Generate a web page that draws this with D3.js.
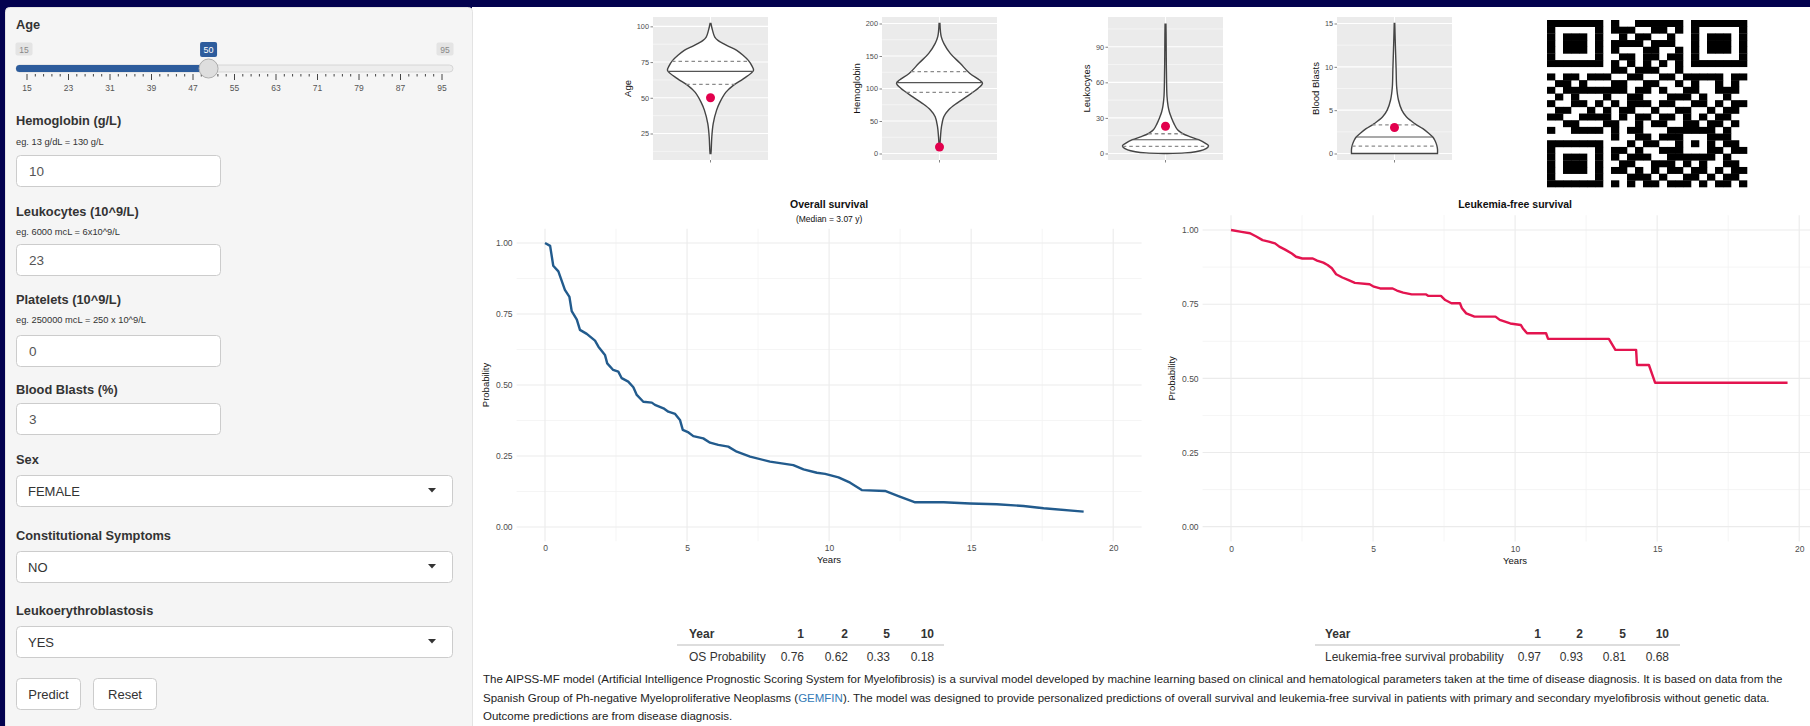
<!DOCTYPE html>
<html><head><meta charset="utf-8">
<script src="https://cdn.jsdelivr.net/npm/d3@7"></script>
<style>
html,body{margin:0;padding:0;background:#03024f;overflow:hidden;}
svg{display:block;font-family:"Liberation Sans",Arial,Helvetica,sans-serif;}
</style></head><body>
<svg id="app" width="1810" height="726"></svg>
<script>
// ---------- inputs shown in the sidebar ----------
const ageMin = 15, ageMax = 95, ageValue = 50;
const ageGridLabels = [15, 23, 31, 39, 47, 55, 63, 71, 79, 87, 95];
const numericFields = ["Hemoglobin (g/L)", "Leukocytes (10^9/L)", "Platelets (10^9/L)", "Blood Blasts (%)"];
const numericHints = ["eg. 13 g/dL = 130 g/L", "eg. 6000 mcL = 6x10^9/L", "eg. 250000 mcL = 250 x 10^9/L", ""];
const numericValues = [10, 23, 0, 3];
const selectFields = ["Sex", "Constitutional Symptoms", "Leukoerythroblastosis"];
const selectValues = ["FEMALE", "NO", "YES"];
const buttonLabels = ["Predict", "Reset"];

// ---------- cohort distributions (violins): value grid and relative density ----------
const ageDensValue = [11, 13.2, 22.5, 31.9, 41.2, 47, 54, 58.7, 63.4, 69.2, 72.5, 76.2, 80, 83.2, 86, 87.9, 90, 92.5, 97.2, 102];
const ageDensWidth = [0.01, 0.016, 0.03, 0.063, 0.14, 0.22, 0.36, 0.53, 0.77, 1.0, 0.96, 0.88, 0.75, 0.61, 0.42, 0.30, 0.18, 0.10, 0.047, 0.01];
const ageQuartiles = [59.4, 68.5, 75.5];
const ageTicks = [25, 50, 75, 100];

const hbDensValue = [6, 25.8, 41.2, 56.6, 66.9, 77.2, 87.4, 100.3, 108, 113, 123.4, 138.8, 154, 169.5, 179.7, 200];
const hbDensWidth = [0.005, 0.023, 0.046, 0.10, 0.21, 0.40, 0.63, 0.90, 1.0, 0.93, 0.70, 0.48, 0.25, 0.10, 0.04, 0.01];
const hbQuartiles = [94, 109, 126];
const hbTicks = [0, 50, 100, 150, 200];

const leukoDensValue = [0, 0.5, 1.5, 3, 5, 6.5, 8.5, 11.6, 14, 16.7, 20, 25, 30, 35, 40, 48, 60, 80, 100, 109];
const leukoDensWidth = [0.04, 0.45, 0.7, 0.88, 0.98, 1.0, 0.93, 0.77, 0.58, 0.40, 0.28, 0.20, 0.14, 0.09, 0.06, 0.035, 0.025, 0.018, 0.014, 0.01];
const leukoQuartiles = [6, 11.6, 16.7];
const leukoTicks = [0, 30, 60, 90];

const blastDensValue = [0, 0.5, 1, 1.5, 1.9, 2.4, 2.87, 3.45, 4.2, 5, 6.2, 7.7, 9.65, 12, 15];
const blastDensWidth = [1.0, 1.0, 0.98, 0.94, 0.89, 0.78, 0.66, 0.47, 0.28, 0.17, 0.09, 0.05, 0.038, 0.023, 0.006];
const blastQuartiles = [0.85, 1.9, 3.3];
const blastTicks = [0, 5, 10, 15];

// ---------- predicted survival curves ----------
const osTime = [0, 0.18, 0.29, 0.47, 0.70, 0.86, 0.94, 1.12, 1.23, 1.47, 1.76, 1.88, 2.11, 2.19, 2.40, 2.58, 2.70, 2.93, 3.11, 3.23, 3.46, 3.76, 3.87, 4.17, 4.34, 4.58, 4.75, 4.85, 5.05, 5.22, 5.57, 5.81, 6.10, 6.45, 6.75, 7.22, 7.92, 8.74, 9.10, 9.57, 9.86, 10.33, 10.74, 11.15, 11.97, 12.44, 13.03, 14.03, 14.96, 15.90, 16.84, 17.55, 18.96];
const osProb = [1.0, 0.99, 0.92, 0.90, 0.835, 0.81, 0.76, 0.73, 0.694, 0.68, 0.656, 0.635, 0.606, 0.576, 0.553, 0.547, 0.524, 0.512, 0.492, 0.465, 0.441, 0.438, 0.430, 0.418, 0.406, 0.398, 0.377, 0.342, 0.333, 0.320, 0.312, 0.297, 0.289, 0.283, 0.265, 0.248, 0.230, 0.218, 0.203, 0.191, 0.187, 0.175, 0.156, 0.130, 0.127, 0.109, 0.087, 0.087, 0.083, 0.080, 0.074, 0.066, 0.054];

const lfsTime = [0, 0.37, 0.67, 0.89, 1.11, 1.33, 1.55, 1.70, 1.92, 2.14, 2.29, 2.51, 2.88, 3.03, 3.25, 3.40, 3.55, 3.70, 3.92, 4.14, 4.36, 4.88, 5.03, 5.25, 5.69, 5.84, 6.06, 6.36, 6.87, 6.95, 7.39, 7.54, 7.76, 8.06, 8.13, 8.28, 8.57, 9.31, 9.46, 9.83, 10.2, 10.27, 10.42, 11.09, 11.16, 13.30, 13.53, 14.26, 14.29, 14.71, 14.93, 19.59];
const lfsProb = [1.0, 0.994, 0.989, 0.978, 0.966, 0.961, 0.955, 0.944, 0.933, 0.921, 0.910, 0.904, 0.904, 0.897, 0.890, 0.882, 0.871, 0.851, 0.840, 0.831, 0.822, 0.817, 0.809, 0.803, 0.803, 0.796, 0.789, 0.783, 0.783, 0.778, 0.778, 0.764, 0.753, 0.753, 0.736, 0.719, 0.708, 0.708, 0.697, 0.685, 0.680, 0.669, 0.652, 0.652, 0.633, 0.633, 0.596, 0.596, 0.545, 0.545, 0.485, 0.485];

const survXTicks = [0, 5, 10, 15, 20];
const survYTicks = [0, 0.25, 0.5, 0.75, 1];
const osMedian = 3.07;

// ---------- summary tables ----------
const tableYears = [1, 2, 5, 10];
const osAtYears = [0.76, 0.62, 0.33, 0.18];
const lfsAtYears = [0.97, 0.93, 0.81, 0.68];

// ---------- QR code modules ----------
const qrRows = [
"1111111010011111101111111",
"1000001011100110101000001",
"1011101001011001001011101",
"1011101011110111001011101",
"1011101010001100101011101",
"1000001001101101101000001",
"1111111010101010101111111",
"0000000011011100100000000",
"1011011100110011011111011",
"0110100011001100101001010",
"1011111111011010011001110",
"0101000100110001110100100",
"1001101010111011001101011",
"0110010101100100110010110",
"1100111101011011010101100",
"0011000110010110011011010",
"1001111010110001111110100",
"0000000010011011100011100",
"1111111000101100101010110",
"1000001011010011100011011",
"1011101010111001111110100",
"1011101001100111010100110",
"1011101011010101101101011",
"1000001000111010011010110",
"1111111010101101110101101"];

const descLines = [
  ["The AIPSS-MF model (Artificial Intelligence Prognostic Scoring System for Myelofibrosis) is a survival model developed by machine learning based on clinical and hematological parameters taken at the time of disease diagnosis. It is based on data from the"],
  ["Spanish Group of Ph-negative Myeloproliferative Neoplasms (", "GEMFIN", "). The model was designed to provide personalized predictions of overall survival and leukemia-free survival in patients with primary and secondary myelofibrosis without genetic data."],
  ["Outcome predictions are from disease diagnosis."]
];

// =====================================================================
const svg = d3.select("#app");
const TXT = "#333";

// page frame
svg.append("rect").attr("width", 1810).attr("height", 726).attr("fill", "#03024f");
svg.append("rect").attr("x", 472).attr("y", 7).attr("width", 1338).attr("height", 719).attr("fill", "#fff");
svg.append("rect").attr("x", 5.5).attr("y", 7.5).attr("width", 467).attr("height", 740).attr("rx", 4)
  .attr("fill", "#f5f5f5").attr("stroke", "#e3e3e3");

// ---------------- sidebar ----------------
const side = svg.append("g");
function fieldLabel(t, y) {
  side.append("text").attr("x", 16).attr("y", y).attr("font-size", 12.8).attr("font-weight", "bold")
    .attr("fill", TXT).text(t);
}
fieldLabel("Age", 29);

const ageX = d3.scaleLinear().domain([ageMin, ageMax]).range([27, 442]);
side.append("rect").attr("x", 16).attr("y", 65).attr("width", 437).attr("height", 7).attr("rx", 3.5)
  .attr("fill", "#ededed").attr("stroke", "#cfcfcf").attr("stroke-width", 0.8);
side.append("rect").attr("x", 16).attr("y", 65).attr("width", ageX(ageValue) - 16).attr("height", 7).attr("rx", 3.5)
  .attr("fill", "#2d5c9c");
// slider grid
const gridStep = (ageGridLabels[1] - ageGridLabels[0]) / 5;
d3.range(ageMin, ageMax + 0.001, gridStep).forEach((v, i) => {
  const major = i % 5 === 0;
  side.append("line").attr("x1", ageX(v)).attr("x2", ageX(v)).attr("y1", 74).attr("y2", major ? 80 : 76.5)
    .attr("stroke", "#444").attr("stroke-width", 1);
});
side.selectAll("text.grid").data(ageGridLabels).join("text").attr("class", "grid")
  .attr("x", d => ageX(d)).attr("y", 91).attr("text-anchor", "middle")
  .attr("font-size", 8.5).attr("fill", "#555").text(d => d);
// min / max / current badges
[[ageMin, 24], [ageMax, 445]].forEach(([v, cx]) => {
  side.append("rect").attr("x", cx - 8.5).attr("y", 42.5).attr("width", 17).attr("height", 13).attr("rx", 2).attr("fill", "#e4e4e4");
  side.append("text").attr("x", cx).attr("y", 52.5).attr("text-anchor", "middle").attr("font-size", 8.5)
    .attr("fill", "#888").text(v);
});
side.append("rect").attr("x", ageX(ageValue) - 8.5).attr("y", 42).attr("width", 17).attr("height", 15).attr("rx", 2).attr("fill", "#2d5c9c");
side.append("text").attr("x", ageX(ageValue)).attr("y", 53).attr("text-anchor", "middle").attr("font-size", 9)
  .attr("fill", "#fff").text(ageValue);
side.append("circle").attr("cx", ageX(ageValue)).attr("cy", 68.5).attr("r", 9.5)
  .attr("fill", "#dedede").attr("stroke", "#adadad").attr("stroke-width", 1);

// numeric inputs
const numLabelY = [125, 216, 304, 394], numHintY = [145, 235, 323, 0], numBoxY = [155, 244, 335, 403];
numericFields.forEach((f, i) => {
  fieldLabel(f, numLabelY[i]);
  if (numericHints[i]) side.append("text").attr("x", 16).attr("y", numHintY[i]).attr("font-size", 9.3)
    .attr("fill", TXT).text(numericHints[i]);
  side.append("rect").attr("x", 16.5).attr("y", numBoxY[i] + 0.5).attr("width", 204).attr("height", 31).attr("rx", 4)
    .attr("fill", "#fff").attr("stroke", "#ccc");
  side.append("text").attr("x", 29).attr("y", numBoxY[i] + 21).attr("font-size", 13.5).attr("fill", "#555").text(numericValues[i]);
});

// select inputs
const selLabelY = [464, 540, 615], selBoxY = [475, 551, 626];
selectFields.forEach((f, i) => {
  fieldLabel(f, selLabelY[i]);
  side.append("rect").attr("x", 16.5).attr("y", selBoxY[i] + 0.5).attr("width", 436).attr("height", 31).attr("rx", 4)
    .attr("fill", "#fff").attr("stroke", "#ccc");
  side.append("text").attr("x", 28).attr("y", selBoxY[i] + 20.5).attr("font-size", 13).attr("fill", TXT).text(selectValues[i]);
  const ax = 432, ay = selBoxY[i] + 15;
  side.append("path").attr("d", `M${ax - 4},${ay - 2}L${ax + 4},${ay - 2}L${ax},${ay + 2.5}Z`).attr("fill", "#333");
});

// buttons
const btnX = [16, 93], btnW = [64, 63];
buttonLabels.forEach((b, i) => {
  side.append("rect").attr("x", btnX[i] + 0.5).attr("y", 678.5).attr("width", btnW[i]).attr("height", 31).attr("rx", 4)
    .attr("fill", "#fff").attr("stroke", "#ccc");
  side.append("text").attr("x", btnX[i] + btnW[i] / 2 + 0.5).attr("y", 699).attr("text-anchor", "middle")
    .attr("font-size", 13).attr("fill", TXT).text(b);
});

// ---------------- violin panels ----------------
const patientValues = [ageValue, numericValues[0], numericValues[1], numericValues[3]];
const violins = [
  { name: "Age", vals: ageDensValue, w: ageDensWidth, q: ageQuartiles, ticks: ageTicks, dom: [6.45, 106.55], left: 653 },
  { name: "Hemoglobin", vals: hbDensValue, w: hbDensWidth, q: hbQuartiles, ticks: hbTicks, dom: [-10, 210], left: 882 },
  { name: "Leukocytes", vals: leukoDensValue, w: leukoDensWidth, q: leukoQuartiles, ticks: leukoTicks, dom: [-5.5, 115.1], left: 1108 },
  { name: "Blood Blasts", vals: blastDensValue, w: blastDensWidth, q: blastQuartiles, ticks: blastTicks, dom: [-0.75, 15.75], left: 1337 }
];
const vTop = 17, vBot = 160, vW = 115;
violins.forEach((v, k) => {
  const g = svg.append("g");
  const y = d3.scaleLinear().domain(v.dom).range([vBot, vTop]);
  const cx = v.left + vW / 2;
  const half = d3.scaleLinear().domain([0, 1]).range([0, 43]);
  g.append("rect").attr("x", v.left).attr("y", vTop).attr("width", vW).attr("height", vBot - vTop).attr("fill", "#ebebeb");
  const step = v.ticks[1] - v.ticks[0];
  const minor = v.ticks.map(t => t - step / 2).concat([v.ticks[v.ticks.length - 1] + step / 2])
    .filter(t => t > v.dom[0] && t < v.dom[1]);
  g.selectAll("line.mn").data(minor).join("line").attr("x1", v.left).attr("x2", v.left + vW)
    .attr("y1", d => y(d)).attr("y2", d => y(d)).attr("stroke", "#fff").attr("stroke-width", 0.5);
  g.selectAll("line.mj").data(v.ticks).join("line").attr("x1", v.left).attr("x2", v.left + vW)
    .attr("y1", d => y(d)).attr("y2", d => y(d)).attr("stroke", "#fff").attr("stroke-width", 1.1);
  g.append("line").attr("x1", cx).attr("x2", cx).attr("y1", vTop).attr("y2", vBot).attr("stroke", "#fff").attr("stroke-width", 1.1);
  // y axis
  const ax = g.append("g").attr("transform", `translate(${v.left},0)`)
    .call(d3.axisLeft(y).tickValues(v.ticks).tickSize(2.5).tickPadding(1.5));
  ax.select(".domain").remove();
  ax.selectAll("line").attr("stroke", "#333").attr("stroke-width", 0.6);
  ax.selectAll("text").attr("font-size", 7.3).attr("fill", "#4d4d4d").attr("font-family", null);
  const maxLen = d3.max(v.ticks, t => String(t).length);
  g.append("text").attr("transform", `translate(${v.left - 10 - maxLen * 4},${(vTop + vBot) / 2}) rotate(-90)`)
    .attr("text-anchor", "middle").attr("font-size", 9.5).attr("fill", "#111").text(v.name);
  g.append("line").attr("x1", cx).attr("x2", cx).attr("y1", vBot).attr("y2", vBot + 2.5).attr("stroke", "#333").attr("stroke-width", 0.6);
  // violin body
  const pts = v.vals.map((val, i) => ({ v: val, w: v.w[i] }));
  const area = d3.area().y(d => y(d.v)).x0(d => cx - half(d.w)).x1(d => cx + half(d.w)).curve(d3.curveCatmullRom);
  g.append("path").attr("d", area(pts)).attr("fill", "#fff").attr("stroke", "#454545").attr("stroke-width", 1.4);
  const widthAt = d3.scaleLinear().domain(v.vals).range(v.w);
  v.q.forEach((qv, i) => {
    const hw = half(widthAt(qv));
    g.append("line").attr("x1", cx - hw).attr("x2", cx + hw).attr("y1", y(qv)).attr("y2", y(qv))
      .attr("stroke", i === 1 ? "#555" : "#8c8c8c").attr("stroke-width", i === 1 ? 1.1 : 1.4)
      .attr("stroke-dasharray", i === 1 ? null : "3.5,3");
  });
  g.append("circle").attr("cx", cx).attr("cy", y(patientValues[k])).attr("r", 4.5).attr("fill", "#e2004d");
});

// ---------------- QR code ----------------
const qrX = d3.scaleBand().domain(d3.range(25)).range([1547, 1747]);
const qrY = d3.scaleBand().domain(d3.range(25)).range([20, 187]);
const qrCells = [];
qrRows.forEach((row, r) => row.split("").forEach((c, col) => { if (c === "1") qrCells.push([r, col]); }));
svg.append("g").selectAll("rect").data(qrCells).join("rect")
  .attr("x", d => qrX(d[1])).attr("y", d => qrY(d[0]))
  .attr("width", qrX.bandwidth() + 0.3).attr("height", qrY.bandwidth() + 0.3).attr("fill", "#000");

// ---------------- survival plots ----------------
function survivalPlot(opt) {
  const g = svg.append("g");
  const x = d3.scaleLinear().domain([-1, 21]).range([opt.left, opt.left + 625]);
  const y = d3.scaleLinear().domain([-0.05, 1.05]).range([opt.bottom, opt.top]);
  const minorX = [2.5, 7.5, 12.5, 17.5], minorY = [0.125, 0.375, 0.625, 0.875];
  g.selectAll("line.mx").data(minorX).join("line").attr("x1", d => x(d)).attr("x2", d => x(d))
    .attr("y1", opt.top).attr("y2", opt.bottom).attr("stroke", "#f2f2f2").attr("stroke-width", 0.8);
  g.selectAll("line.my").data(minorY).join("line").attr("y1", d => y(d)).attr("y2", d => y(d))
    .attr("x1", x.range()[0]).attr("x2", x.range()[1]).attr("stroke", "#f2f2f2").attr("stroke-width", 0.8);
  g.selectAll("line.jx").data(survXTicks).join("line").attr("x1", d => x(d)).attr("x2", d => x(d))
    .attr("y1", opt.top).attr("y2", opt.bottom).attr("stroke", "#ebebeb").attr("stroke-width", 1.1);
  g.selectAll("line.jy").data(survYTicks).join("line").attr("y1", d => y(d)).attr("y2", d => y(d))
    .attr("x1", x.range()[0]).attr("x2", x.range()[1]).attr("stroke", "#ebebeb").attr("stroke-width", 1.1);
  const ya = g.append("g").attr("transform", `translate(${opt.left},0)`)
    .call(d3.axisLeft(y).tickValues(survYTicks).tickFormat(d3.format(".2f")).tickSize(0).tickPadding(4));
  ya.select(".domain").remove();
  ya.selectAll("text").attr("font-size", 8.5).attr("fill", "#4d4d4d").attr("font-family", null);
  const xa = g.append("g").attr("transform", `translate(0,${opt.bottom})`)
    .call(d3.axisBottom(x).tickValues(survXTicks).tickSize(0).tickPadding(4));
  xa.select(".domain").remove();
  xa.selectAll("text").attr("font-size", 8.5).attr("fill", "#4d4d4d").attr("font-family", null);
  g.append("text").attr("x", x(10)).attr("y", opt.bottom + 22).attr("text-anchor", "middle")
    .attr("font-size", 9.5).attr("fill", "#111").text("Years");
  g.append("text").attr("transform", `translate(${opt.left - 28},${y(0.5)}) rotate(-90)`)
    .attr("text-anchor", "middle").attr("font-size", 9.5).attr("fill", "#111").text("Probability");
  g.append("text").attr("x", x(10)).attr("y", 208).attr("text-anchor", "middle").attr("font-size", 10.5)
    .attr("font-weight", "bold").attr("fill", "#111").text(opt.title);
  if (opt.subtitle) g.append("text").attr("x", x(10)).attr("y", 222).attr("text-anchor", "middle")
    .attr("font-size", 8.5).attr("fill", "#111").text(opt.subtitle);
  const line = d3.line().x(d => x(d[0])).y(d => y(d[1]));
  g.append("path").attr("d", line(opt.t.map((t, i) => [t, opt.p[i]]))).attr("fill", "none")
    .attr("stroke", opt.color).attr("stroke-width", 2.4).attr("stroke-linejoin", "round");
}
survivalPlot({ left: 516.6, top: 228.8, bottom: 541.2, t: osTime, p: osProb, color: "#225b8d",
  title: "Overall survival", subtitle: `(Median = ${osMedian.toFixed(2)} y)` });
survivalPlot({ left: 1202.6, top: 215.2, bottom: 541.5, t: lfsTime, p: lfsProb, color: "#e3144f",
  title: "Leukemia-free survival" });

// ---------------- tables ----------------
function summaryTable(opt) {
  const g = svg.append("g").attr("font-size", 12).attr("fill", TXT);
  g.append("text").attr("x", opt.left).attr("y", 638).attr("font-weight", "bold").text("Year");
  g.append("text").attr("x", opt.left).attr("y", 661).text(opt.rowLabel);
  tableYears.forEach((yr, i) => {
    g.append("text").attr("x", opt.cols[i]).attr("y", 638).attr("text-anchor", "end").attr("font-weight", "bold").text(yr);
    g.append("text").attr("x", opt.cols[i]).attr("y", 661).attr("text-anchor", "end").text(opt.vals[i].toFixed(2));
  });
  g.append("line").attr("x1", opt.lineX[0]).attr("x2", opt.lineX[1]).attr("y1", 645).attr("y2", 645)
    .attr("stroke", "#ddd").attr("stroke-width", 2);
}
summaryTable({ left: 689, cols: [804, 848, 890, 934], lineX: [677, 944], rowLabel: "OS Probability", vals: osAtYears });
summaryTable({ left: 1325, cols: [1541, 1583, 1626, 1669], lineX: [1315, 1680], rowLabel: "Leukemia-free survival probability", vals: lfsAtYears });

// ---------------- description ----------------
const desc = svg.append("g").attr("font-size", 11.5).attr("fill", "#222");
descLines.forEach((parts, i) => {
  const t = desc.append("text").attr("x", 483).attr("y", 683 + i * 18.5);
  parts.forEach(p => t.append("tspan").attr("fill", p === "GEMFIN" ? "#337ab7" : null).text(p));
});
</script>
</body></html>
